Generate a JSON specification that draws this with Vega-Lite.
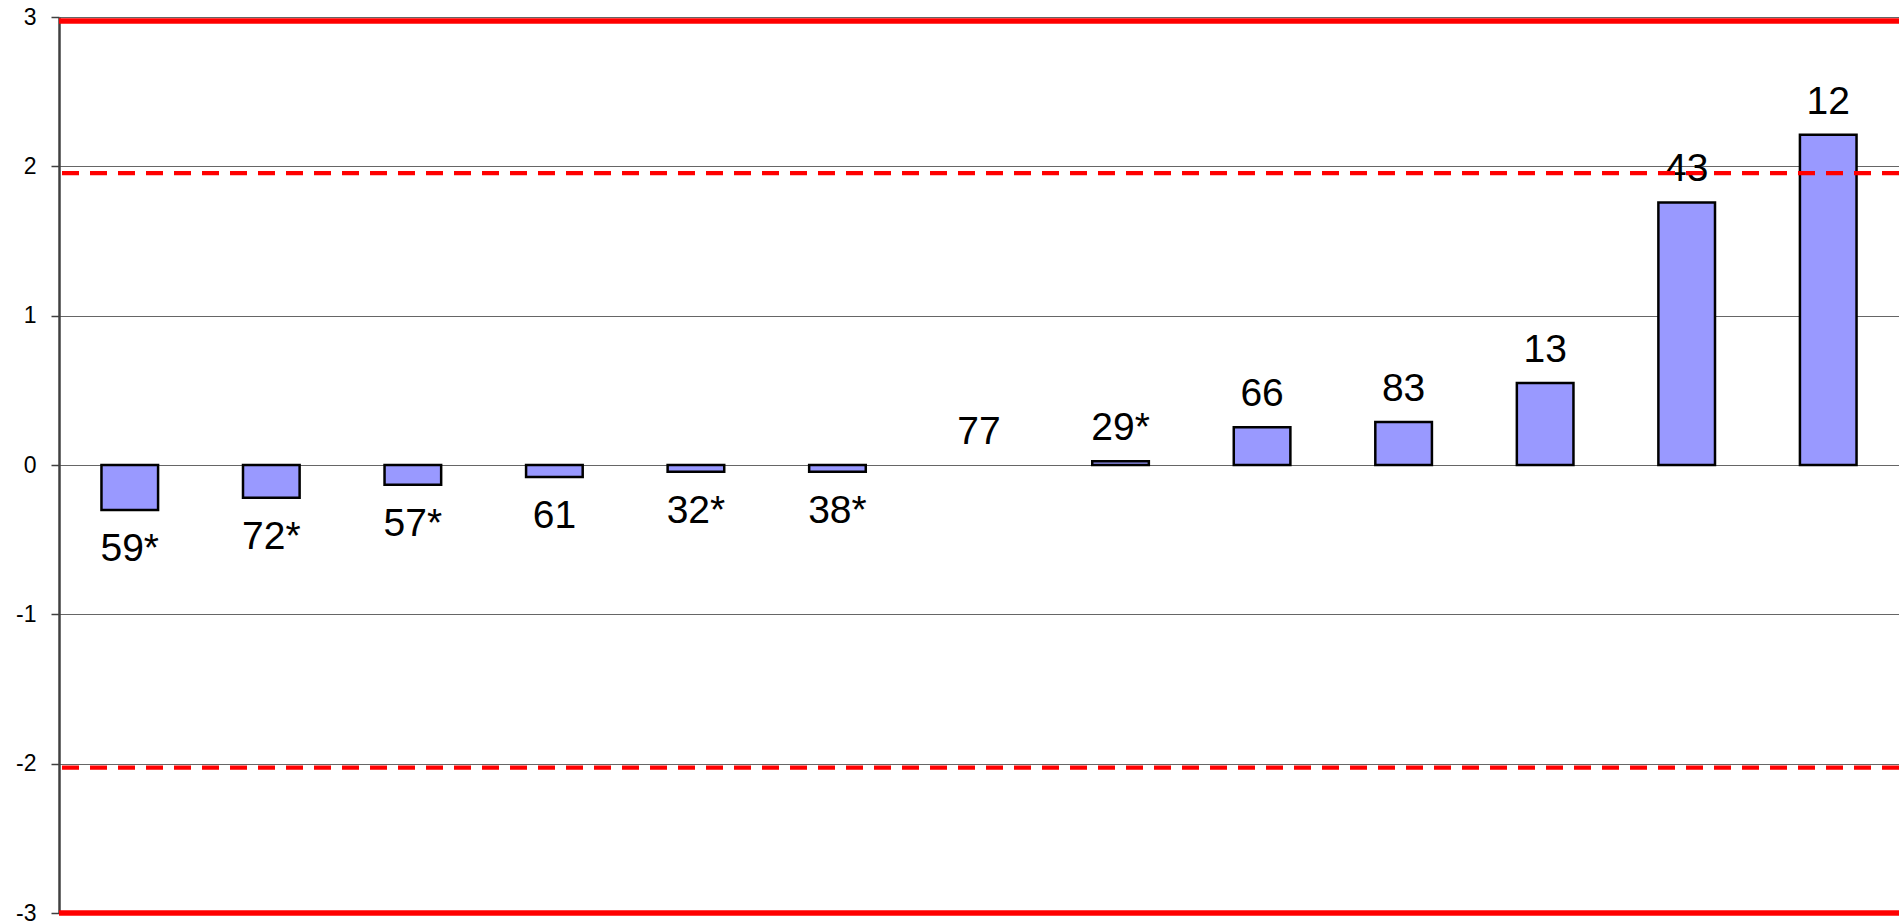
{
  "$schema": "https://vega.github.io/schema/vega-lite/v6.json",
  "width": 1840,
  "height": 896,
  "autosize": {"type": "none"},
  "padding": {"left": 59, "top": 17, "right": 0, "bottom": 10},
  "background": "white",
  "config": {"view": {"stroke": null}, "font": "Liberation Sans"},
  "datasets": {
    "bars": [
      {"label": "59*", "value": -0.301},
      {"label": "72*", "value": -0.219},
      {"label": "57*", "value": -0.132},
      {"label": "61", "value": -0.080},
      {"label": "32*", "value": -0.045},
      {"label": "38*", "value": -0.045},
      {"label": "77", "value": 0.0},
      {"label": "29*", "value": 0.025},
      {"label": "66", "value": 0.252},
      {"label": "83", "value": 0.288},
      {"label": "13", "value": 0.549},
      {"label": "43", "value": 1.758},
      {"label": "12", "value": 2.211}
    ],
    "refs": [
      {"ref": 2.974, "kind": "solid"},
      {"ref": -3.0, "kind": "solid"},
      {"ref": 1.955, "kind": "dash"},
      {"ref": -2.026, "kind": "dash"}
    ]
  },
  "layer": [
    {
      "data": {"name": "bars"},
      "transform": [{"filter": "datum.value != 0"}],
      "mark": {"type": "bar", "fill": "#9999FF", "stroke": "#000000", "strokeWidth": 2.5},
      "encoding": {
        "x": {"field": "label", "type": "nominal", "sort": null,
              "scale": {"domain": ["59*", "72*", "57*", "61", "32*", "38*", "77", "29*", "66", "83", "13", "43", "12"],
                        "paddingInner": 0.6, "paddingOuter": 0.3}, "axis": null},
        "y": {"field": "value", "type": "quantitative",
              "scale": {"domain": [-3, 3], "nice": false, "zero": false},
              "axis": {"title": null, "values": [-3, -2, -1, 0, 1, 2, 3],
                       "labelExpr": "'' + datum.value", "grid": true,
                       "gridColor": "#666666", "gridWidth": 1.2,
                       "domainColor": "#404040", "domainWidth": 2.5,
                       "tickColor": "#404040", "tickSize": 8, "tickWidth": 1.5,
                       "labelFontSize": 23, "labelColor": "#000000", "labelPadding": 15,
                       "labelFont": "Liberation Sans"}}
      }
    },
    {
      "data": {"name": "bars"},
      "transform": [{"filter": "datum.value >= 0"}],
      "mark": {"type": "text", "fontSize": 39, "baseline": "alphabetic", "align": "center", "dy": -21, "color": "#000000"},
      "encoding": {
        "x": {"field": "label", "type": "nominal", "sort": null},
        "y": {"field": "value", "type": "quantitative"},
        "text": {"field": "label"}
      }
    },
    {
      "data": {"name": "bars"},
      "transform": [{"filter": "datum.value < 0"}],
      "mark": {"type": "text", "fontSize": 39, "baseline": "alphabetic", "align": "center", "dy": 51, "color": "#000000"},
      "encoding": {
        "x": {"field": "label", "type": "nominal", "sort": null},
        "y": {"field": "value", "type": "quantitative"},
        "text": {"field": "label"}
      }
    },
    {
      "data": {"name": "refs"},
      "transform": [{"filter": "datum.kind == 'dash'"}],
      "mark": {"type": "rule", "color": "#FF0000", "strokeWidth": 4.3, "strokeDash": [17, 11]},
      "encoding": {"y": {"field": "ref", "type": "quantitative"}}
    },
    {
      "data": {"name": "refs"},
      "transform": [{"filter": "datum.kind == 'solid'"}],
      "mark": {"type": "rule", "color": "#FF0000", "strokeWidth": 5.5},
      "encoding": {"y": {"field": "ref", "type": "quantitative"}}
    }
  ]
}
